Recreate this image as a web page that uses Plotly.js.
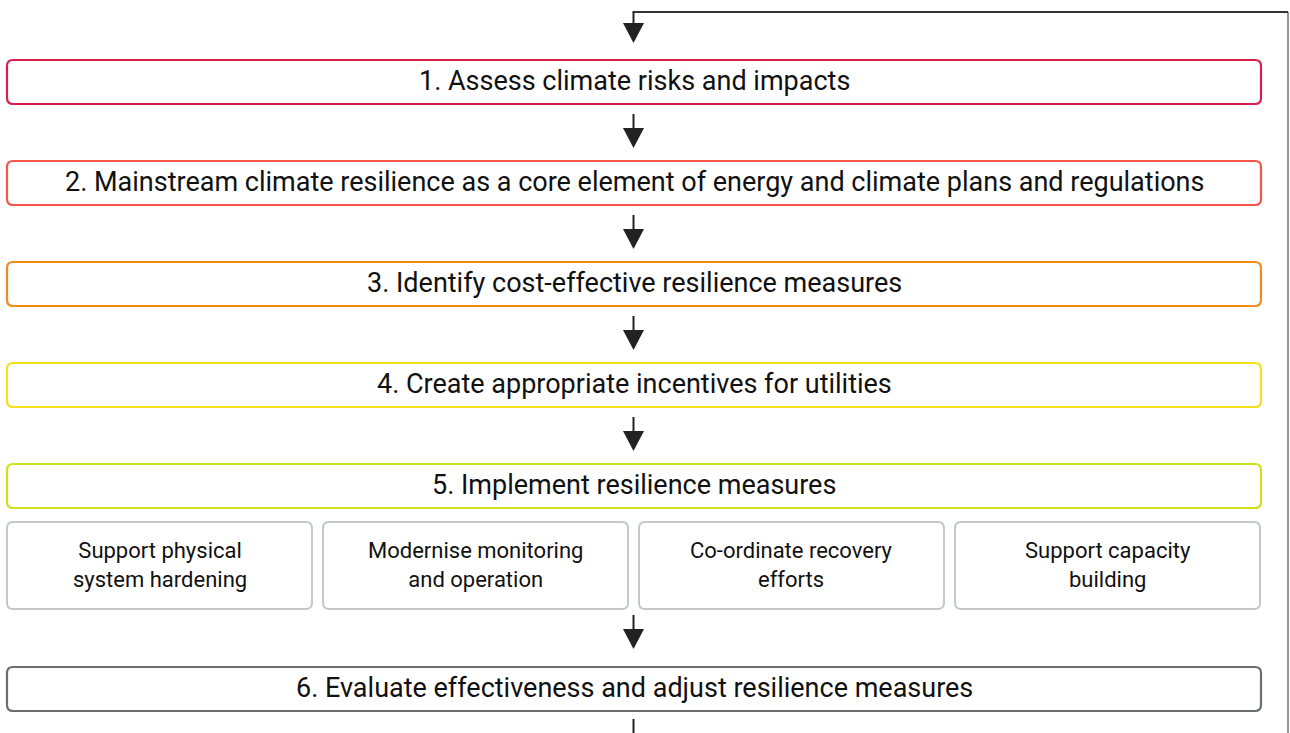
<!DOCTYPE html>
<html>
<head>
<meta charset="utf-8">
<script src="https://cdn.plot.ly/plotly-3.0.1.min.js"></script>
<style>html,body{margin:0;padding:0;background:#fff;}#chart{width:1290px;height:733px;}</style>
</head>
<body>
<div id="chart"></div>
<script>
// ---- content ----
const stepLabels = [
  "1. Assess climate risks and impacts",
  "2. Mainstream climate resilience as a core element of energy and climate plans and regulations",
  "3. Identify cost-effective resilience measures",
  "4. Create appropriate incentives for utilities",
  "5. Implement resilience measures",
  "6. Evaluate effectiveness and adjust resilience measures"
];
const subMeasures = [
  "Support physical<br>system hardening",
  "Modernise monitoring<br>and operation",
  "Co-ordinate recovery<br>efforts",
  "Support capacity<br>building"
];
// ---- styles ----
const stepColors = ["#d81e4b", "#f5554b", "#f28b1e", "#f7df20", "#cfe01c", "#6b6d71"];
const subColor = "#c4c7cb";

// ---- layout geometry ----
const W = 1290, H = 733;
const boxLeft = 7, boxRight = 1261, boxH = 44;
const stepTops = [60, 161, 262, 363, 464, 667];
const subTop = 522, subBottom = 609, subW = 305, subGap = 11;
const cx = 633.5, loopX = 1288, loopY = 12;

function roundRect(x0, y0, x1, y1, r) {
  return `M ${x0 + r},${y0} L ${x1 - r},${y0} Q ${x1},${y0} ${x1},${y0 + r} L ${x1},${y1 - r} Q ${x1},${y1} ${x1 - r},${y1} L ${x0 + r},${y1} Q ${x0},${y1} ${x0},${y1 - r} L ${x0},${y0 + r} Q ${x0},${y0} ${x0 + r},${y0} Z`;
}
const shapes = [], annotations = [];
const arrowColor = "#222222";
function arrow(yStart, yTip) {
  const headH = 20, headW = 10.5;
  shapes.push({type: "line", xref: "x", yref: "y", x0: cx, x1: cx, y0: yStart, y1: yTip - headH + 1,
    line: {color: arrowColor, width: 2}});
  shapes.push({type: "path", xref: "x", yref: "y",
    path: `M ${cx - headW},${yTip - headH} L ${cx + headW},${yTip - headH} L ${cx},${yTip} Z`,
    fillcolor: arrowColor, line: {color: arrowColor, width: 0}});
}

stepLabels.forEach((lab, i) => {
  const t = stepTops[i];
  shapes.push({type: "path", xref: "x", yref: "y", path: roundRect(boxLeft, t, boxRight, t + boxH, 6),
    fillcolor: "#ffffff", line: {color: stepColors[i], width: 2.2}});
  annotations.push({x: (boxLeft + boxRight) / 2, y: t + boxH / 2 - 1, xref: "x", yref: "y", text: lab,
    showarrow: false, font: {family: "Roboto", size: 27, color: "#111111"}, xanchor: "center", yanchor: "middle"});
});
subMeasures.forEach((lab, i) => {
  const x0 = boxLeft + i * (subW + subGap);
  shapes.push({type: "path", xref: "x", yref: "y", path: roundRect(x0, subTop, x0 + subW, subBottom, 6),
    fillcolor: "#ffffff", line: {color: subColor, width: 2}});
  annotations.push({x: x0 + subW / 2, y: (subTop + subBottom) / 2 - 1, xref: "x", yref: "y", text: lab,
    showarrow: false, font: {family: "Roboto", size: 22, color: "#111111"}, xanchor: "center", yanchor: "middle"});
});
// arrows between boxes
arrow(loopY, 43);
for (let i = 0; i < 4; i++) arrow(stepTops[i] + boxH + 10, stepTops[i + 1] - 13);
arrow(subBottom + 6, stepTops[5] - 18);
// feedback loop
shapes.push({type: "line", xref: "x", yref: "y", x0: cx, x1: cx, y0: stepTops[5] + boxH + 8, y1: H + 5,
  line: {color: arrowColor, width: 2}});
shapes.push({type: "line", xref: "x", yref: "y", x0: loopX, x1: loopX, y0: H + 5, y1: loopY,
  line: {color: "#7a7a7a", width: 1.6}});
shapes.push({type: "line", xref: "x", yref: "y", x0: loopX, x1: cx - 1, y0: loopY, y1: loopY,
  line: {color: "#333333", width: 2}});

const layout = {
  width: W, height: H, margin: {l: 0, r: 0, t: 0, b: 0},
  paper_bgcolor: "#ffffff", plot_bgcolor: "#ffffff",
  xaxis: {range: [0, W], visible: false, fixedrange: true},
  yaxis: {range: [H, 0], visible: false, fixedrange: true},
  shapes: shapes, annotations: annotations, showlegend: false
};
Plotly.newPlot("chart", [], layout, {staticPlot: true, displayModeBar: false});
</script>
</body>
</html>
